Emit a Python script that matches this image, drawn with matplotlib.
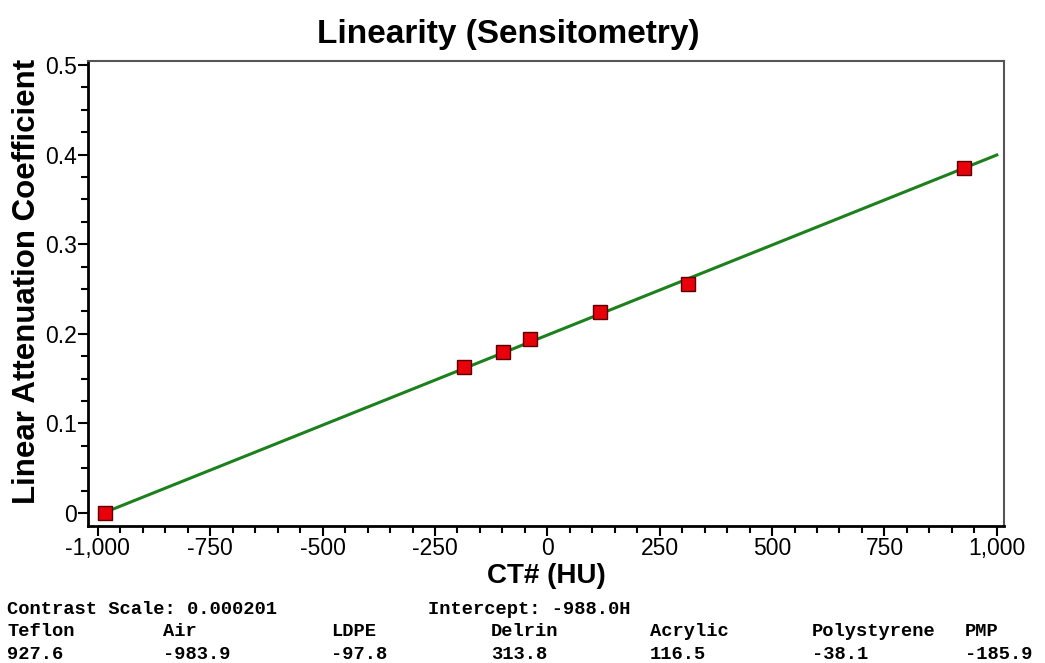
import matplotlib
matplotlib.use("Agg")
import matplotlib.pyplot as plt
from matplotlib.ticker import FuncFormatter, MultipleLocator

# measured CT numbers (HU) and linear attenuation coefficients
materials = ["Teflon", "Air", "LDPE", "Delrin", "Acrylic", "Polystyrene", "PMP"]
ct_hu = [927.6, -983.9, -97.8, 313.8, 116.5, -38.1, -185.9]
mu = [0.385, 0.0, 0.180, 0.256, 0.224, 0.194, 0.163]

# fitted line end points
fit_x = [-988.0, 1000.0]
fit_y = [0.0, 0.3996]

contrast_scale = "0.000201"
intercept = "-988.0H"

plt.rcParams['font.family'] = ['Liberation Sans', 'DejaVu Sans']

fig = plt.figure(figsize=(10.45, 6.63), dpi=100)
ax = fig.add_axes([88 / 1045, 137 / 663, 916 / 1045, 465 / 663])

ax.plot(fit_x, fit_y, color='#1c801c', lw=2.2, zorder=2)
ax.plot(ct_hu, mu, 's', ms=10, mfc='#e8000b', mec='#5a0000', mew=1, zorder=3)

ax.set_xlim(-1022, 1016)
ax.set_ylim(-0.0145, 0.5045)

ax.xaxis.set_major_locator(MultipleLocator(250))
ax.xaxis.set_minor_locator(MultipleLocator(50))
ax.yaxis.set_major_locator(MultipleLocator(0.1))
ax.yaxis.set_minor_locator(MultipleLocator(0.025))
ax.xaxis.set_major_formatter(FuncFormatter(lambda v, p: f"{v:,.0f}"))
ax.yaxis.set_major_formatter(FuncFormatter(lambda v, p: "0" if abs(v) < 1e-9 else f"{v:.1f}"))

ax.tick_params(which='major', direction='out', length=7, width=1.5, labelsize=16.5)
ax.tick_params(which='minor', direction='out', length=5, width=1.5)
ax.tick_params(axis='x', pad=1)
ax.tick_params(axis='y', pad=1)

for side in ['left', 'bottom']:
    ax.spines[side].set_linewidth(2)
    ax.spines[side].set_color('black')
for side in ['top', 'right']:
    ax.spines[side].set_linewidth(1.5)
    ax.spines[side].set_color('#555555')

fig.text(508 / 1045, 1 - 43 / 663, "Linearity (Sensitometry)", fontsize=24,
         fontweight='bold', ha='center', va='baseline')
ax.set_xlabel("CT# (HU)", fontsize=20, fontweight='bold', labelpad=2)
ax.set_ylabel("Linear Attenuation Coefficient", fontsize=22.5, fontweight='bold')
ax.yaxis.set_label_coords(-0.050, 0.527)

# text table beneath the chart
mono = dict(family=['Liberation Mono', 'DejaVu Sans Mono'], fontsize=13.5, fontweight='bold',
            va='baseline', ha='left')
fig.text(7 / 1045, 1 - 614 / 663, "Contrast Scale: " + contrast_scale, **mono)
fig.text(428 / 1045, 1 - 614 / 663, "Intercept: " + intercept, **mono)
col_x = [7, 163, 331, 491, 650, 812, 965]
for cx, name, val in zip(col_x, materials, ct_hu):
    fig.text(cx / 1045, 1 - 636 / 663, name, **mono)
    fig.text(cx / 1045, 1 - 659 / 663, f"{val:.1f}", **mono)

fig.savefig("out.png", dpi=100)
